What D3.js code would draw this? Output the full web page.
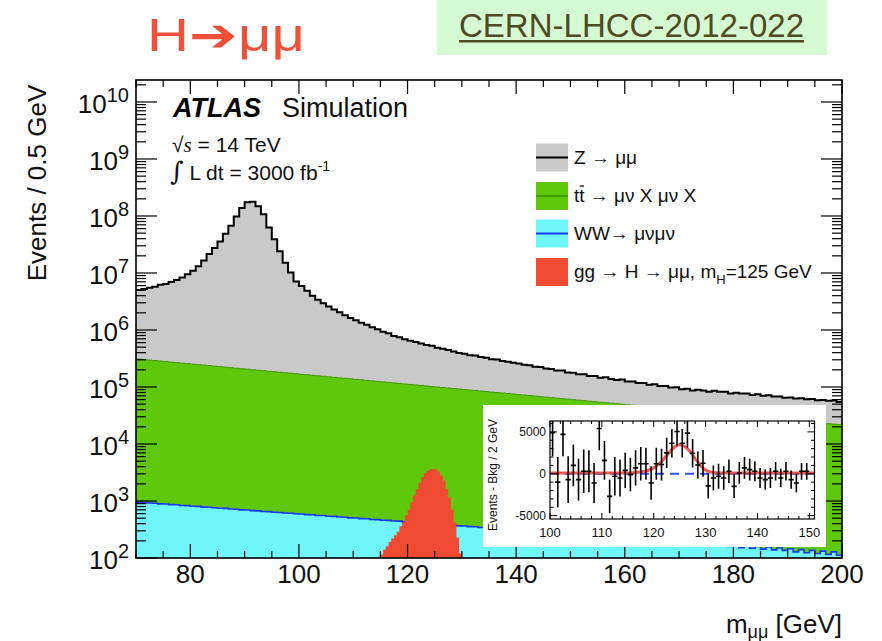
<!DOCTYPE html>
<html><head><meta charset="utf-8">
<script src="https://cdn.jsdelivr.net/npm/d3@7"></script>
<style>body{margin:0;background:#fff}svg{display:block}</style>
</head><body>
<svg id="c" width="882" height="641"></svg>
<script>
// ---------------- DATA ----------------
// 1 GeV bins, lower edges 70 ... 199
const massBins = d3.range(70, 200, 1);
const zmumu = [
 4700000,4930000,5220000,5440000,5910000,6160000,6680000,7300000,8090000,9250000,
 10700000,12900000,16400000,21200000,27300000,35300000,48800000,67400000,97500000,138000000,
 174000000,178000000,148000000,107000000,62900000,38700000,23800000,14900000,10000000,6910000,
 5720000,4740000,3820000,3250000,2790000,2430000,2130000,1910000,1670000,1490000,
 1340000,1210000,1110000,985000,905000,805000,755000,670000,630000,575000,
 538000,505000,472000,443000,426000,387000,373000,348000,326000,303000,
 293000,272000,270000,251000,244000,225000,224000,207000,201000,190000,
 186000,173000,171000,157000,156000,145000,142000,130000,132000,118000,
 118000,108000,110000,99000,101000,91000,95000,86000,82000,85000,
 76000,77000,71000,72000,65000,68000,61000,62000,57000,58000,
 52000,54000,49000,52000,50000,47000,51000,48000,49000,44000,
 47000,45000,46000,42000,45000,41000,43000,40000,41000,38000,
 39000,37000,38000,36000,37500,35000,36000,34500,35500,33000];
const ttbar = [
 308000,301500,296000,289500,284000,278500,272000,267000,261000,256500,
 251000,245500,241000,236000,231000,226500,221500,217500,213000,208500,
 204500,200000,196000,192500,188000,184500,180500,177000,173500,170000,
 166500,163000,159500,156500,153500,150000,147000,144000,141500,138500,
 135500,133000,130000,127500,125000,122500,120000,117500,115000,112500,
 110500,108000,106000,104000,101500,99500,97500,95500,93800,91800,
 90000,88000,86500,84500,83000,81000,79500,78000,76500,74800,
 73200,71800,70400,68800,67500,66100,64800,63500,62100,60900,
 59600,58400,57300,56100,55000,53800,52700,51700,50600,49600,
 48600,47600,46600,45700,44700,43800,42900,42100,41200,40400,
 39500,38700,37900,37200,36400,35700,34900,34200,33500,32800,
 32200,31500,30900,30200,29600,29000,28400,27800,27300,26700,
 26200,25600,25100,24600,24100,23600,23100,22600,22200,21700];
const wwmumu = [
 955,945,920,915,890,885,862,858,835,830,
 810,805,782,778,760,748,742,722,718,700,
 694,678,672,655,651,636,630,615,611,596,
 592,576,573,558,555,540,537,523,520,506,
 504,490,488,475,472,460,457,445,443,431,
 429,417,415,404,402,391,390,378,377,366,
 365,355,354,343,343,332,332,322,322,312,
 312,302,303,292,293,283,284,274,275,266,
 266,257,258,249,250,241,242,234,234,226,
 228,218,221,210,214,203,207,198,200,190,
 194,186,188,178,182,172,177,166,173,160,
 168,152,165,148,160,143,156,139,150,136,
 145,128,140,124,136,120,132,116,128,112];
// signal gg->H->mumu, 0.5 GeV bins, lower edges 114.5 ... 129.5
const signalBins = d3.range(114.5, 130, 0.5);
const signal = [105,115,140,160,190,220,250,290,360,430,560,700,950,1250,1600,2100,
 2600,3100,3400,3600,3650,3600,3300,2800,2300,1600,1150,700,420,230,120];
// inset: events - bkg per bin
const insetMass = d3.range(100.5, 150, 1);
const insetDiff = [
 4900,-1000,4700,-700,1000,-700,300,300,-1100,5400,
 1600,-2700,-300,-500,400,-100,700,1200,1200,-1100,
 1200,1100,2500,3650,5050,3650,4850,2450,1050,1250,
 -1450,-500,-300,-500,300,-1500,100,700,500,300,
 -500,-700,-500,300,-500,300,-700,-1100,300,300];
const insetErr = [
 2800,3000,2600,2800,2500,2500,2600,2500,2400,2600,
 2300,2000,2300,2200,2100,2000,2100,2000,1900,2000,
 1900,1900,1800,1700,1700,1700,1700,1700,1600,1600,
 1500,1500,1500,1400,1400,1400,1300,1300,1300,1200,
 1200,1200,1200,1100,1100,1100,1100,1100,1000,1000];
const fitMass  = [100,114,116,117,118,119,120,121,122,123,124,125,126,127,128,129,130,131,132,134,151];
const fitValue = [100,100,120,170,260,420,700,1150,1800,2550,3200,3450,3250,2650,1800,1000,450,200,120,100,100];
const bkgMass = [100,151], bkgValue = [0,0];
const xTickLabels = [80,100,120,140,160,180,200];
const yDecades = [2,3,4,5,6,7,8,9,10];
const insetXTicks = [100,110,120,130,140,150];
const insetYTicks = [-5000,0,5000];
const legendItems = ["Z → μμ","tt → μν X μν X","WW→ μνμν","gg → H → μμ, m"];

// ---------------- CHART ----------------
const svg = d3.select("#c");
const FONT = "'Liberation Sans', Arial, Helvetica, sans-serif";
const L = 136, R = 842, T = 80, B = 558;
const x = d3.scaleLinear().domain([70,200]).range([L,R]);
const y = d3.scaleLog().domain([1e2, 2.43e10]).range([B,T]).clamp(true);

svg.append("defs").append("clipPath").attr("id","pc")
  .append("rect").attr("x",L).attr("y",T).attr("width",R-L).attr("height",B-T);

// header
svg.append("text").attr("x",147).attr("y",51).attr("font-family",FONT).attr("font-size",46)
  .attr("fill","#f0503a").attr("textLength",158).attr("lengthAdjust","spacingAndGlyphs")
  .text("H➔μμ");
svg.append("rect").attr("x",437).attr("y",0).attr("width",390).attr("height",55).attr("fill","#d5fbd3");
svg.append("text").attr("x",459).attr("y",37).attr("font-family",FONT).attr("font-size",33)
  .attr("fill","#4f4a1f").attr("textLength",345).attr("lengthAdjust","spacingAndGlyphs")
  .text("CERN-LHCC-2012-022");
svg.append("rect").attr("x",459).attr("y",40).attr("width",345).attr("height",2.5).attr("fill","#4f4a1f");

// stacked histograms
const rows = massBins.map((m,i)=>({m, ww:wwmumu[i], tt:ttbar[i], z:zmumu[i]}));
const stacked = d3.stack().keys(["ww","tt","z"])(rows);
function stepPts(edges, vals, w){
  const p = vals.map((v,i)=>[edges[i], v]);
  p.push([edges[edges.length-1]+w, vals[vals.length-1]]);
  return p;
}
const area = d3.area().curve(d3.curveStepAfter).x(d=>x(d[0])).y0(B).y1(d=>y(d[1]));
const line = d3.line().curve(d3.curveStepAfter).x(d=>x(d[0])).y(d=>y(d[1]));
const pg = svg.append("g").attr("clip-path","url(#pc)");
const layers = [
  {key:"z", fill:"#c9c9c9", stroke:"#000", sw:2},
  {key:"tt", fill:"#5fc80b", stroke:"#3f9a05", sw:1},
  {key:"ww", fill:"#6ff6fa", stroke:"#1838f0", sw:1.6}
];
layers.forEach(l=>{
  const s = stacked.find(d=>d.key===l.key);
  const pts = stepPts(massBins, s.map(d=>d[1]), 1);
  pg.append("path").attr("d",area(pts)).attr("fill",l.fill);
  pg.append("path").attr("d",line(pts)).attr("fill","none").attr("stroke",l.stroke).attr("stroke-width",l.sw);
});
pg.append("path").attr("d",area(stepPts(signalBins, signal, 0.5))).attr("fill","#ee4a31");

// ticks
const tg = svg.append("g").attr("stroke","#000").attr("stroke-width",1.2);
function tk(x1,y1,x2,y2){ tg.append("line").attr("x1",x1).attr("y1",y1).attr("x2",x2).attr("y2",y2); }
d3.range(70,201,5).forEach(v=>{
  const len = (v%20===0) ? 14 : 7, px = x(v);
  tk(px,B,px,B-len); tk(px,T,px,T+len);
});
yDecades.forEach(k=>{
  const v = Math.pow(10,k);
  tk(L,y(v),L+21,y(v)); tk(R,y(v),R-21,y(v));
  for(let j=2;j<=9;j++){
    const w = j*v; if(w>2.43e10) break;
    tk(L,y(w),L+10,y(w)); tk(R,y(w),R-10,y(w));
  }
});
svg.append("rect").attr("x",L).attr("y",T).attr("width",R-L).attr("height",B-T)
  .attr("fill","none").attr("stroke","#000").attr("stroke-width",1.6);

// tick labels
xTickLabels.forEach(v=>{
  svg.append("text").attr("x",x(v)).attr("y",583).attr("text-anchor","middle")
    .attr("font-family",FONT).attr("font-size",26).attr("fill","#111").text(v);
});
yDecades.forEach(k=>{
  const t = svg.append("text").attr("x",129).attr("y",y(Math.pow(10,k))+11).attr("text-anchor","end")
    .attr("font-family",FONT).attr("font-size",26).attr("fill","#111");
  t.append("tspan").text("10");
  t.append("tspan").attr("dy",-11).attr("font-size",20).text(k);
});
// axis titles
svg.append("text").attr("transform","translate(46,183) rotate(-90)").attr("text-anchor","middle")
  .attr("font-family",FONT).attr("font-size",26).attr("fill","#111").text("Events / 0.5 GeV");
const xt = svg.append("text").attr("x",842).attr("y",633).attr("text-anchor","end")
  .attr("font-family",FONT).attr("font-size",26).attr("fill","#111");
xt.append("tspan").text("m");
xt.append("tspan").attr("dy",5).attr("font-size",18).text("μμ");
xt.append("tspan").attr("dy",-5).text(" [GeV]");

// ATLAS label
svg.append("text").attr("x",173).attr("y",117).attr("font-family",FONT).attr("font-size",27)
  .attr("font-weight","bold").attr("font-style","italic").attr("fill","#000").text("ATLAS");
svg.append("text").attr("x",282).attr("y",117).attr("font-family",FONT).attr("font-size",27)
  .attr("fill","#111").text("Simulation");
const s1 = svg.append("text").attr("x",172).attr("y",152).attr("font-family",FONT).attr("font-size",21).attr("fill","#111");
s1.append("tspan").text("√");
s1.append("tspan").attr("font-family","'Liberation Serif', serif").attr("font-style","italic").text("s");
s1.append("tspan").text(" = 14 TeV");
const s2 = svg.append("text").attr("x",170).attr("y",180).attr("font-family",FONT).attr("font-size",21).attr("fill","#111");
s2.append("tspan").attr("font-size",26).attr("font-family","'DejaVu Serif', serif").text("∫");
s2.append("tspan").text(" L dt = 3000 fb");
s2.append("tspan").attr("dy",-9).attr("font-size",14).text("-1");

// legend
const legFill = ["#c9c9c9","#5fc80b","#6ff6fa","#ee4a31"];
const legLine = ["#000","#3f9a05","#1838f0",null];
const legTop = [143.5,182,219.5,258];
legendItems.forEach((lab,i)=>{
  svg.append("rect").attr("x",536).attr("y",legTop[i]).attr("width",32).attr("height",28).attr("fill",legFill[i]);
  if(legLine[i]) svg.append("line").attr("x1",536).attr("x2",568).attr("y1",legTop[i]+14).attr("y2",legTop[i]+14)
      .attr("stroke",legLine[i]).attr("stroke-width",2);
  const t = svg.append("text").attr("x",574).attr("y",legTop[i]+20).attr("font-family",FONT).attr("font-size",19).attr("fill","#111");
  if(i===1){
    t.text(lab);
    const ext = t.node().getExtentOfChar(1);
    svg.append("line").attr("x1",ext.x+0.5).attr("x2",ext.x+ext.width-0.5)
      .attr("y1",legTop[i]+4).attr("y2",legTop[i]+4).attr("stroke","#111").attr("stroke-width",1.3);
  } else if(i===3){
    t.append("tspan").text(lab);
    t.append("tspan").attr("dy",6).attr("font-size",13).text("H");
    t.append("tspan").attr("dy",-6).text("=125 GeV");
  } else t.text(lab);
});

// inset
svg.append("rect").attr("x",483).attr("y",405).attr("width",343).attr("height",142).attr("fill","#fff");
const IL=550, IR=814.5, IT=421, IB=519;
const ix = d3.scaleLinear().domain([100,151]).range([IL,IR]);
const iy = d3.scaleLinear().domain([-5400,6300]).range([IB,IT]);
svg.select("defs").append("clipPath").attr("id","ic")
  .append("rect").attr("x",IL).attr("y",IT).attr("width",IR-IL).attr("height",IB-IT);
const ig = svg.append("g").attr("clip-path","url(#ic)");
ig.append("path").attr("d",d3.line().x(d=>ix(d[0])).y(d=>iy(d[1]))(bkgMass.map((m,i)=>[m,bkgValue[i]])))
  .attr("fill","none").attr("stroke","#2f55ff").attr("stroke-width",2).attr("stroke-dasharray","9,6");
ig.append("path").attr("d",d3.line().curve(d3.curveMonotoneX).x(d=>ix(d[0])).y(d=>iy(d[1]))(fitMass.map((m,i)=>[m,fitValue[i]])))
  .attr("fill","none").attr("stroke","rgba(238,60,50,0.85)").attr("stroke-width",3);
insetMass.forEach((m,i)=>{
  const v = insetDiff[i], e = insetErr[i];
  ig.append("line").attr("x1",ix(m)).attr("x2",ix(m)).attr("y1",iy(v-e)).attr("y2",iy(v+e)).attr("stroke","#000").attr("stroke-width",1.6);
  ig.append("line").attr("x1",ix(m-0.5)).attr("x2",ix(m+0.5)).attr("y1",iy(v)).attr("y2",iy(v)).attr("stroke","#000").attr("stroke-width",1.6);
});
const itg = svg.append("g").attr("stroke","#000").attr("stroke-width",1);
function itk(x1,y1,x2,y2){ itg.append("line").attr("x1",x1).attr("y1",y1).attr("x2",x2).attr("y2",y2); }
d3.range(100,151,2).forEach(v=>{
  const len = (v%10===0)?6:3, px = ix(v);
  itk(px,IB,px,IB-len); itk(px,IT,px,IT+len);
});
d3.range(-5000,6001,1000).forEach(v=>{
  const len = (v%5000===0)?7:3.5, py = iy(v);
  itk(IL,py,IL+len,py); itk(IR,py,IR-len,py);
});
svg.append("rect").attr("x",IL).attr("y",IT).attr("width",IR-IL).attr("height",IB-IT)
  .attr("fill","none").attr("stroke","#000").attr("stroke-width",1.2);
insetXTicks.forEach(v=>{
  svg.append("text").attr("x",ix(v)).attr("y",537).attr("text-anchor","middle")
    .attr("font-family",FONT).attr("font-size",13).attr("fill","#111").text(v);
});
insetYTicks.forEach(v=>{
  svg.append("text").attr("x",546).attr("y",iy(v)+4.5).attr("text-anchor","end")
    .attr("font-family",FONT).attr("font-size",12).attr("fill","#111").text(v);
});
svg.append("text").attr("transform","translate(497,475) rotate(-90)").attr("text-anchor","middle")
  .attr("font-family",FONT).attr("font-size",12).attr("fill","#111").text("Events - Bkg / 2 GeV");
</script>
</body></html>
